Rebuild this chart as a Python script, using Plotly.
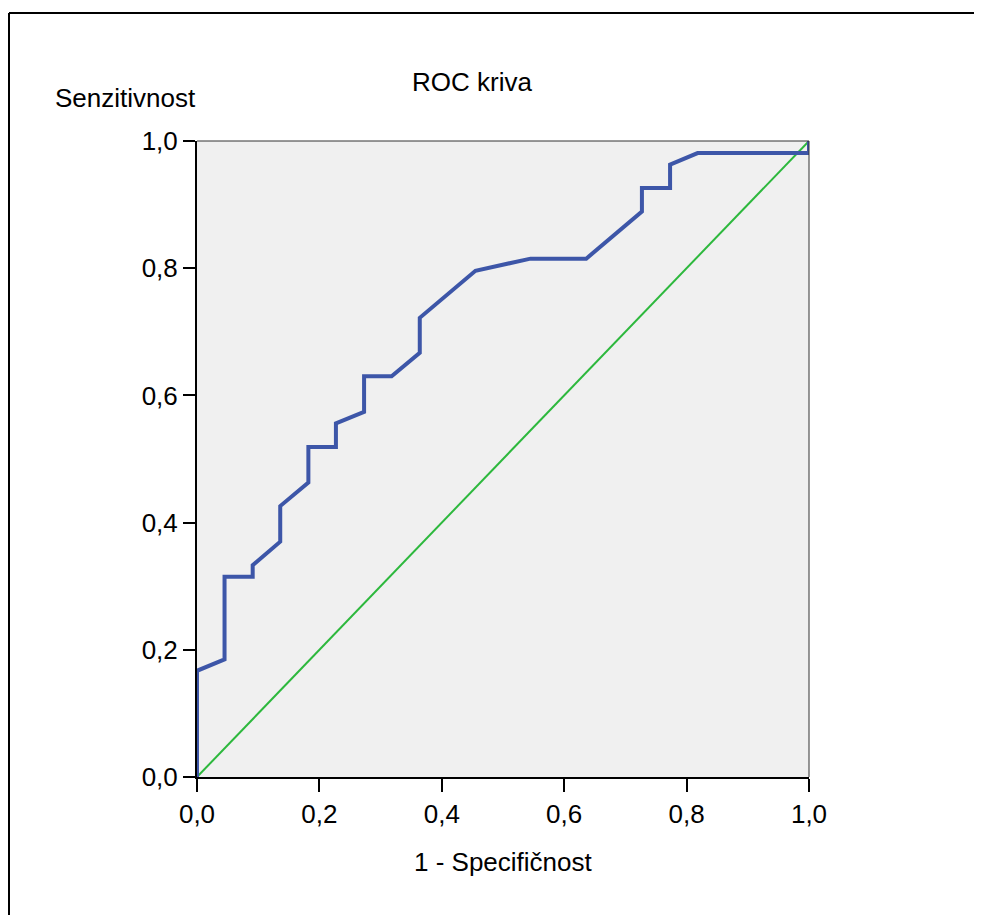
import plotly.graph_objects as go

# ROC curve data (1 - specificity, sensitivity)
fpr = [0.0, 0.0, 0.045, 0.045, 0.091, 0.091, 0.136, 0.136, 0.182, 0.182, 0.227, 0.227,
       0.273, 0.273, 0.318, 0.364, 0.364, 0.455, 0.545, 0.636, 0.727, 0.727, 0.773,
       0.773, 0.818, 1.0, 1.0]
tpr = [0.0, 0.167, 0.185, 0.315, 0.315, 0.333, 0.370, 0.426, 0.463, 0.519, 0.519, 0.556,
       0.574, 0.630, 0.630, 0.667, 0.722, 0.796, 0.815, 0.815, 0.889, 0.926, 0.926,
       0.963, 0.981, 0.981, 1.0]
ref_x = [0.0, 1.0]
ref_y = [0.0, 1.0]
tick_vals = [0.0, 0.2, 0.4, 0.6, 0.8, 1.0]

title_text = "ROC kriva"
x_title = "1 - Specifičnost"
y_title = "Senzitivnost"

OFF = 8  # page body margin
W, H = 974, 907
L, R, T, B = 189, 173, 133, 138
pw, ph = W - L - R, H - T - B

def px(x):
    # screenshot x pixel -> paper coordinate
    return (x - OFF - L) / pw

def py(y):
    return (H - B - (y - OFF)) / ph

FONT = "Liberation Sans, Arial, sans-serif"
FS = 26

fig = go.Figure()
fig.add_trace(go.Scatter(x=ref_x, y=ref_y, mode="lines",
                         line=dict(color="#2DB83D", width=2), showlegend=False))
fig.add_trace(go.Scatter(x=fpr, y=tpr, mode="lines",
                         line=dict(color="#3D56A8", width=4), showlegend=False))

fig.update_layout(
    width=W, height=H,
    margin=dict(l=L, r=R, t=T, b=B, autoexpand=False),
    paper_bgcolor="white",
    plot_bgcolor="#F0F0F0",
    separators=",.",
    font=dict(family=FONT, size=FS, color="black"),
    xaxis=dict(range=[0, 1], tickvals=tick_vals, tickformat=".1f",
               showgrid=False, zeroline=False, showline=True, linecolor="black",
               linewidth=2, ticks="outside", ticklen=13, tickwidth=2, tickcolor="black",
               tickfont=dict(size=FS)),
    yaxis=dict(range=[0, 1], tickvals=tick_vals, tickformat=".1f",
               showgrid=False, zeroline=False, showline=True, linecolor="black",
               linewidth=2, ticks="outside", ticklen=12, tickwidth=2, tickcolor="black",
               tickfont=dict(size=FS)),
    shapes=[
        # top and right border of plot area
        dict(type="line", xref="paper", yref="paper", x0=0, y0=1, x1=1, y1=1,
             line=dict(color="#333333", width=1)),
        dict(type="line", xref="paper", yref="paper", x0=1, y0=0, x1=1, y1=1,
             line=dict(color="#333333", width=1)),
        # outer frame (left and top)
        dict(type="line", xref="paper", yref="paper", x0=px(9), y0=py(13), x1=px(9), y1=py(H + 40),
             line=dict(color="black", width=2)),
        dict(type="line", xref="paper", yref="paper", x0=px(9), y0=py(13), x1=px(W + 40), y1=py(13),
             line=dict(color="black", width=2)),
    ],
    annotations=[
        dict(text=title_text, xref="paper", yref="paper", x=px(472), y=py(82),
             xanchor="center", yanchor="middle", showarrow=False, font=dict(size=FS)),
        dict(text=y_title, xref="paper", yref="paper", x=px(125), y=py(98),
             xanchor="center", yanchor="middle", showarrow=False, font=dict(size=FS)),
        dict(text=x_title, xref="paper", yref="paper", x=px(503), y=py(862),
             xanchor="center", yanchor="middle", showarrow=False, font=dict(size=FS)),
    ],
)

fig.write_html("out.html")
